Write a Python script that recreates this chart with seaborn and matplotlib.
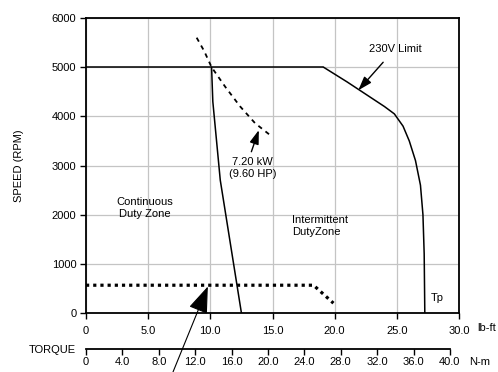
import matplotlib
matplotlib.use('Agg')
import matplotlib.pyplot as plt
import seaborn as sns

# speed / torque envelope, torque in lb-ft, speed in RPM
base_torque = [0.0, 19.1]
base_speed = [5000, 5000]

v230_torque = [19.1, 21.0, 22.5, 24.0, 24.8, 25.5, 26.0, 26.5, 26.9, 27.1, 27.2, 27.25]
v230_speed = [5000, 4700, 4450, 4200, 4050, 3800, 3500, 3100, 2600, 2000, 1200, 0]

cont_torque = [10.1, 10.2, 10.5, 10.8, 12.5]
cont_speed = [5000, 4300, 3500, 2700, 0]

power_torque = [8.9, 9.5, 10.1, 11.2, 12.4, 13.6, 14.8]
power_speed = [5600, 5330, 5000, 4600, 4200, 3860, 3620]

peak_torque = [0.0, 18.3, 19.9]
peak_speed = [565, 565, 200]

x_ticks = [0, 5, 10, 15, 20, 25, 30]
x_labels = ["0", "5.0", "10.0", "15.0", "20.0", "25.0", "30.0"]
y_ticks = [0, 1000, 2000, 3000, 4000, 5000, 6000]
y_labels = ["0", "1000", "2000", "3000", "4000", "5000", "6000"]
nm_ticks = [0, 4, 8, 12, 16, 20, 24, 28, 32, 36, 40]
nm_labels = ["0", "4.0", "8.0", "12.0", "16.0", "20.0", "24.0", "28.0", "32.0", "36.0", "40.0"]

sns.set_theme(style="white")
plt.rcParams['font.family'] = ['Liberation Sans Narrow', 'Liberation Sans', 'DejaVu Sans']
plt.rcParams.update({"text.color": "black", "axes.labelcolor": "black",
                     "xtick.color": "black", "ytick.color": "black"})

fig = plt.figure(figsize=(4.98, 3.72), dpi=100)
ax = fig.add_axes([86 / 498, 59 / 372, 373 / 498, 295 / 372])

line_kw = dict(color="black", sort=False, estimator=None, ax=ax)
sns.lineplot(x=base_torque, y=base_speed, lw=1.1, **line_kw)
sns.lineplot(x=v230_torque, y=v230_speed, lw=1.1, **line_kw)
sns.lineplot(x=cont_torque, y=cont_speed, lw=1.1, **line_kw)
sns.lineplot(x=power_torque, y=power_speed, lw=1.3, linestyle=(0, (2.5, 2.5)), **line_kw)
sns.lineplot(x=peak_torque, y=peak_speed, lw=2.3, linestyle=(0, (1, 1.25)),
             dash_capstyle='butt', **line_kw)

ax.set_xlim(0, 30)
ax.set_ylim(0, 6000)
ax.set_xticks(x_ticks)
ax.set_xticklabels(x_labels)
ax.set_yticks(y_ticks)
ax.set_yticklabels(y_labels)
ax.tick_params(axis='both', labelsize=8, length=4, width=1, color='black',
               direction='out', pad=3, bottom=True, left=True)
ax.tick_params(axis='x', pad=5)
ax.grid(True, color="#c4c4c4", lw=0.9)
for s in ax.spines.values():
    s.set_color("black")
    s.set_linewidth(1.3)
ax.set_ylabel("SPEED (RPM)", fontsize=8, labelpad=20)

# zone labels and annotations
ax.text(4.75, 2130, "Continuous\nDuty Zone", ha="center", va="center", fontsize=8, linespacing=1.3)
ax.text(16.6, 1770, "Intermittent\nDutyZone", ha="left", va="center", fontsize=8, linespacing=1.3)
ax.text(27.75, 300, "Tp", ha="left", va="center", fontsize=8)
ax.text(24.9, 5370, "230V Limit", ha="center", va="center", fontsize=8)
ax.annotate("", xy=(21.9, 4530), xytext=(23.9, 5100),
            arrowprops=dict(arrowstyle="-|>,head_length=0.6,head_width=0.2", color="black",
                            lw=1, mutation_scale=14, shrinkA=0, shrinkB=0))
ax.text(13.4, 2950, "7.20 kW\n(9.60 HP)", ha="center", va="center", fontsize=8, linespacing=1.2)
ax.annotate("", xy=(13.9, 3720), xytext=(13.3, 3280),
            arrowprops=dict(arrowstyle="-|>,head_length=0.6,head_width=0.2", color="black",
                            lw=1, mutation_scale=14, shrinkA=0, shrinkB=0))
ax.annotate("", xy=(9.8, 540), xytext=(173 / 498, 0.0), textcoords='figure fraction',
            annotation_clip=False,
            arrowprops=dict(arrowstyle="-|>,head_length=0.6,head_width=0.22", color="black",
                            lw=0.8, mutation_scale=28, shrinkA=0, shrinkB=0))

# second torque scale in N-m
ax2 = fig.add_axes([86 / 498, 1 - 349 / 372, 373 / 498, 0.001])
ax2.set_xlim(0, 41)
ax2.set_xticks(nm_ticks)
ax2.set_xticklabels(nm_labels)
ax2.set_yticks([])
for side in ["top", "left", "right"]:
    ax2.spines[side].set_visible(False)
ax2.spines["bottom"].set_bounds(0, 40)
ax2.spines["bottom"].set_color("black")
ax2.spines["bottom"].set_linewidth(1.3)
ax2.tick_params(axis='x', labelsize=8, length=4, width=1, color='black', pad=2, bottom=True)
ax2.patch.set_visible(False)

fig.text(477 / 498, 1 - 328 / 372, "lb-ft", ha="left", va="center", fontsize=8)
fig.text(76 / 498, 1 - 350 / 372, "TORQUE", ha="right", va="center", fontsize=8)
fig.text(469 / 498, 1 - 362 / 372, "N-m", ha="left", va="center", fontsize=8)

fig.savefig("out.png", dpi=100)
